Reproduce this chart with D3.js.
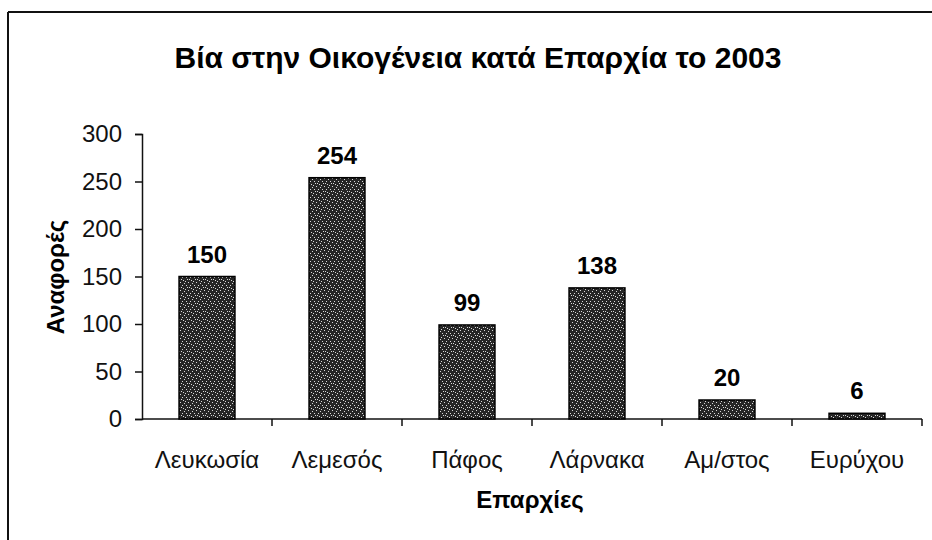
<!DOCTYPE html>
<html>
<head>
<meta charset="utf-8">
<script src="https://cdn.jsdelivr.net/npm/d3@7"></script>
<style>
  body { margin: 0; background: #fff; }
  svg { display: block; font-family: "Liberation Sans", Arial, sans-serif; }
</style>
</head>
<body>
<script>
// data
var categories = ["Λευκωσία", "Λεμεσός", "Πάφος", "Λάρνακα", "Αμ/στος", "Ευρύχου"];
var values = [150, 254, 99, 138, 20, 6];
var yTicks = [0, 50, 100, 150, 200, 250, 300];

var W = 932, H = 540;
var svg = d3.select("body").append("svg")
  .attr("width", W)
  .attr("height", H);

// speckled fill for the bars
var defs = svg.append("defs");
var pat = defs.append("pattern")
  .attr("id", "speckle")
  .attr("patternUnits", "userSpaceOnUse")
  .attr("width", 8)
  .attr("height", 8);
pat.append("rect").attr("width", 8).attr("height", 8).attr("fill", "#262626");
var dots = [[1, 1], [4, 2], [6, 5], [2, 5], [5, 7], [0, 3], [7, 0], [3, 7]];
pat.selectAll("rect.d").data(dots).enter().append("rect")
  .attr("class", "d")
  .attr("x", function (d) { return d[0]; })
  .attr("y", function (d) { return d[1]; })
  .attr("width", 1)
  .attr("height", 1)
  .attr("fill", "#d8d8d8");

// frame lines (scan edges)
svg.append("line").attr("x1", 8).attr("y1", 12).attr("x2", 932).attr("y2", 12)
  .attr("stroke", "#111").attr("stroke-width", 2);
svg.append("line").attr("x1", 8).attr("y1", 12).attr("x2", 8).attr("y2", 540)
  .attr("stroke", "#111").attr("stroke-width", 2);

// scales
var x = d3.scaleBand().domain(categories).range([142, 922]).padding(0);
var y = d3.scaleLinear().domain([0, 300]).range([419, 134]);
var barW = x.bandwidth() * 0.43;

var labelSize = "24px";

// title
svg.append("text")
  .attr("x", 478)
  .attr("y", 68)
  .attr("text-anchor", "middle")
  .style("font-size", "30px")
  .style("font-weight", "bold")
  .text("Βία στην Οικογένεια κατά Επαρχία το 2003");

// y axis
var yAxis = svg.append("g")
  .attr("transform", "translate(142,0)")
  .call(d3.axisLeft(y).tickValues(yTicks).tickSize(7).tickPadding(13));
yAxis.selectAll("text").style("font-size", labelSize).attr("fill", "#111");
yAxis.selectAll("line, path").attr("stroke", "#111").attr("stroke-width", 1.5);

// x axis: ticks between categories
var xAxisG = svg.append("g");
xAxisG.append("line")
  .attr("x1", 142).attr("x2", 922)
  .attr("y1", y(0)).attr("y2", y(0))
  .attr("stroke", "#111").attr("stroke-width", 1.5);
var bounds = categories.map(function (c) { return x(c) + x.bandwidth(); });
xAxisG.selectAll("line.tick").data(bounds).enter().append("line")
  .attr("class", "tick")
  .attr("x1", function (d) { return d; })
  .attr("x2", function (d) { return d; })
  .attr("y1", y(0))
  .attr("y2", y(0) + 7)
  .attr("stroke", "#111").attr("stroke-width", 1.5);
xAxisG.selectAll("text").data(categories).enter().append("text")
  .attr("x", function (d) { return x(d) + x.bandwidth() / 2; })
  .attr("y", 468)
  .attr("text-anchor", "middle")
  .style("font-size", labelSize)
  .attr("fill", "#111")
  .text(function (d) { return d; });

// bars
var data = categories.map(function (c, i) { return { cat: c, val: values[i] }; });
svg.selectAll("rect.bar").data(data).enter().append("rect")
  .attr("class", "bar")
  .attr("x", function (d) { return x(d.cat) + (x.bandwidth() - barW) / 2; })
  .attr("y", function (d) { return y(d.val); })
  .attr("width", barW)
  .attr("height", function (d) { return y(0) - y(d.val); })
  .attr("fill", "url(#speckle)")
  .attr("stroke", "#000")
  .attr("stroke-width", 1.5);

// value labels
svg.selectAll("text.val").data(data).enter().append("text")
  .attr("class", "val")
  .attr("x", function (d) { return x(d.cat) + x.bandwidth() / 2; })
  .attr("y", function (d) { return y(d.val) - 14; })
  .attr("text-anchor", "middle")
  .style("font-size", labelSize)
  .style("font-weight", "bold")
  .text(function (d) { return d.val; });

// axis titles
svg.append("text")
  .attr("transform", "translate(64,277) rotate(-90)")
  .attr("text-anchor", "middle")
  .style("font-size", labelSize)
  .style("font-weight", "bold")
  .text("Αναφορές");

svg.append("text")
  .attr("x", 530)
  .attr("y", 508)
  .attr("text-anchor", "middle")
  .style("font-size", labelSize)
  .style("font-weight", "bold")
  .text("Επαρχίες");
</script>
</body>
</html>
